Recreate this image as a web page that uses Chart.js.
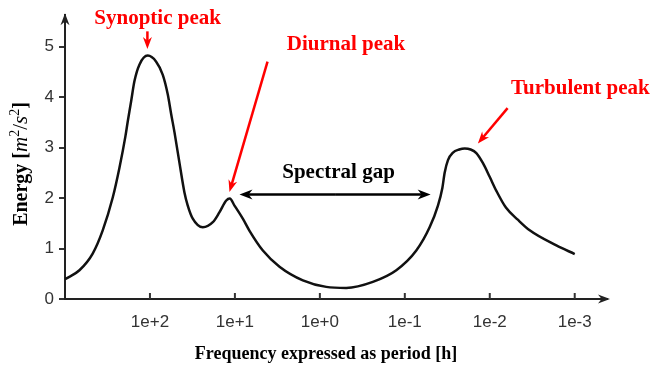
<!DOCTYPE html>
<html lang="en">
<head>
    <meta charset="UTF-8">
    <title>Energy spectrum</title>
    <script src="https://cdn.jsdelivr.net/npm/chart.js"></script>
    <style>
        html, body { margin: 0; padding: 0; background: #fff; }
        .chart-box { width: 654px; height: 367px; position: relative; }
    </style>
</head>
<body>
    <div class="chart-box">
        <canvas id="spectrumChart"></canvas>
    </div>

    <script>
        // period exponent (log10 of period in hours) and energy
        const periodExp = [3.0, 2.83, 2.674, 2.556, 2.438, 2.359, 2.289, 2.261, 2.221, 2.183, 2.124, 2.026, 1.927, 1.849, 1.79, 1.75, 1.711, 1.653, 1.594, 1.555, 1.496, 1.378, 1.26, 1.181, 1.102, 1.06, 1.005, 0.907, 0.828, 0.671, 0.475, 0.2, -0.075, -0.311, -0.624, -0.9, -1.135, -1.292, -1.39, -1.442, -1.469, -1.508, -1.567, -1.64, -1.705, -1.775, -1.842, -1.92, -1.999, -2.078, -2.19, -2.33, -2.47, -2.784, -3.0];
        const energy = [0.39, 0.57, 0.90, 1.36, 2.01, 2.60, 3.22, 3.52, 3.92, 4.31, 4.64, 4.82, 4.70, 4.44, 4.05, 3.66, 3.30, 2.70, 2.11, 1.85, 1.59, 1.42, 1.52, 1.72, 1.95, 1.99, 1.85, 1.59, 1.35, 0.96, 0.64, 0.37, 0.24, 0.22, 0.34, 0.57, 0.96, 1.42, 1.85, 2.20, 2.50, 2.75, 2.90, 2.96, 2.98, 2.96, 2.89, 2.69, 2.42, 2.14, 1.81, 1.57, 1.36, 1.06, 0.89];

        const xTicks = [2, 1, 0, -1, -2, -3];
        const xTickLabels = ['1e+2', '1e+1', '1e+0', '1e-1', '1e-2', '1e-3'];
        const yTicks = [0, 1, 2, 3, 4, 5];

        // annotations in data units: [exp, energy]
        const notes = [
            { text: 'Synoptic peak', at: [1.91, 5.55], align: 'center', from: [2.03, 5.30], to: [2.03, 4.95] },
            { text: 'Diurnal peak', at: [0.39, 5.04], align: 'left', from: [0.616, 4.70], to: [1.064, 2.12] },
            { text: 'Turbulent peak', at: [-2.25, 4.17], align: 'left', from: [-2.21, 3.78], to: [-1.86, 3.08] }
        ];
        const gapLabel = { text: 'Spectral gap', at: [-0.22, 2.50], from: 0.946, to: -1.304, y: 2.07 };

        const serif = '"Liberation Serif", "Times New Roman", serif';
        const sans = '"Liberation Sans", Arial, sans-serif';

        function arrowHead(ctx, x1, y1, x2, y2, len, half) {
            const a = Math.atan2(y2 - y1, x2 - x1);
            ctx.beginPath();
            ctx.moveTo(x2, y2);
            ctx.lineTo(x2 - len * Math.cos(a) + half * Math.sin(a), y2 - len * Math.sin(a) - half * Math.cos(a));
            ctx.lineTo(x2 - len * 0.7 * Math.cos(a), y2 - len * 0.7 * Math.sin(a));
            ctx.lineTo(x2 - len * Math.cos(a) - half * Math.sin(a), y2 - len * Math.sin(a) + half * Math.cos(a));
            ctx.closePath();
            ctx.fill();
        }

        function arrow(ctx, x1, y1, x2, y2, color, width, len, half) {
            const a = Math.atan2(y2 - y1, x2 - x1);
            ctx.strokeStyle = color;
            ctx.fillStyle = color;
            ctx.lineWidth = width;
            ctx.beginPath();
            ctx.moveTo(x1, y1);
            ctx.lineTo(x2 - len * 0.6 * Math.cos(a), y2 - len * 0.6 * Math.sin(a));
            ctx.stroke();
            arrowHead(ctx, x1, y1, x2, y2, len, half);
        }

        const decorations = {
            id: 'decorations',
            afterDraw(chart) {
                const ctx = chart.ctx;
                const xs = chart.scales.x, ys = chart.scales.y;
                const area = chart.chartArea;
                ctx.save();

                // axis arrowheads
                ctx.fillStyle = '#222';
                arrowHead(ctx, area.left, area.bottom, area.left, area.top - 2, 12, 4.5);
                arrowHead(ctx, area.left, area.bottom, area.right + 3, area.bottom, 12, 4.5);

                // x ticks pointing inward
                ctx.strokeStyle = '#333';
                ctx.lineWidth = 2;
                xTicks.forEach(v => {
                    const px = xs.getPixelForValue(v);
                    ctx.beginPath();
                    ctx.moveTo(px, area.bottom);
                    ctx.lineTo(px, area.bottom - 6);
                    ctx.stroke();
                });

                // red annotations
                notes.forEach(n => {
                    ctx.fillStyle = '#f00';
                    ctx.font = 'bold 21px ' + serif;
                    ctx.textAlign = n.align;
                    ctx.textBaseline = 'middle';
                    ctx.fillText(n.text, xs.getPixelForValue(n.at[0]), ys.getPixelForValue(n.at[1]));
                    arrow(ctx, xs.getPixelForValue(n.from[0]), ys.getPixelForValue(n.from[1]),
                        xs.getPixelForValue(n.to[0]), ys.getPixelForValue(n.to[1]), '#f00', 2.5, 12, 4.5);
                });

                // spectral gap double arrow
                const gy = ys.getPixelForValue(gapLabel.y);
                const gx1 = xs.getPixelForValue(gapLabel.from);
                const gx2 = xs.getPixelForValue(gapLabel.to);
                const mid = (gx1 + gx2) / 2;
                arrow(ctx, mid, gy, gx1, gy, '#000', 2.5, 13, 5);
                arrow(ctx, mid, gy, gx2, gy, '#000', 2.5, 13, 5);
                ctx.fillStyle = '#000';
                ctx.font = 'bold 21px ' + serif;
                ctx.textAlign = 'center';
                ctx.textBaseline = 'middle';
                ctx.fillText(gapLabel.text, xs.getPixelForValue(gapLabel.at[0]), ys.getPixelForValue(gapLabel.at[1]));

                // x axis title
                ctx.font = 'bold 18px ' + serif;
                ctx.fillText('Frequency expressed as period [h]', 326, 354);

                // y axis title with math parts
                const parts = [
                    ['Energy [', 'bold 20px ' + serif, 0],
                    ['m', 'italic 21px ' + serif, 0],
                    ['2', '14px ' + serif, -8],
                    ['/', '21px ' + serif, 0],
                    ['s', 'italic 21px ' + serif, 0],
                    ['2', '14px ' + serif, -8],
                    [']', 'bold 20px ' + serif, 0]
                ];
                let total = 0;
                parts.forEach(p => { ctx.font = p[1]; total += ctx.measureText(p[0]).width; });
                ctx.translate(20, 164);
                ctx.rotate(-Math.PI / 2);
                ctx.textAlign = 'left';
                ctx.textBaseline = 'alphabetic';
                let cx = -total / 2;
                parts.forEach(p => {
                    ctx.font = p[1];
                    ctx.fillText(p[0], cx, 7 + p[2]);
                    cx += ctx.measureText(p[0]).width;
                });
                ctx.restore();
            }
        };

        const ctx = document.getElementById('spectrumChart').getContext('2d');
        const chart = new Chart(ctx, {
            type: 'line',
            data: {
                datasets: [{
                    data: periodExp.map((v, i) => ({ x: v, y: energy[i] })),
                    borderColor: '#111',
                    borderWidth: 2.5,
                    pointRadius: 0,
                    cubicInterpolationMode: 'monotone',
                    fill: false
                }]
            },
            options: {
                responsive: true,
                maintainAspectRatio: false,
                animation: false,
                layout: { padding: { top: 13, right: 47, left: 0, bottom: 0 } },
                plugins: { legend: { display: false }, tooltip: { enabled: false } },
                scales: {
                    x: {
                        type: 'linear',
                        reverse: true,
                        min: -3.38,
                        max: 3.0,
                        afterBuildTicks: s => { s.ticks = xTicks.map(v => ({ value: v })); },
                        afterFit: s => { s.height = 68; },
                        ticks: {
                            callback: v => xTickLabels[xTicks.indexOf(v)],
                            font: { family: sans, size: 17 },
                            color: '#333',
                            padding: 13,
                            maxRotation: 0
                        },
                        grid: { display: true, drawOnChartArea: false, drawTicks: false },
                        border: { display: true, color: '#222', width: 2 }
                    },
                    y: {
                        min: 0,
                        max: 5.62,
                        afterBuildTicks: s => { s.ticks = yTicks.map(v => ({ value: v })); },
                        afterFit: s => { s.width = 65; },
                        ticks: {
                            font: { family: sans, size: 17 },
                            color: '#333',
                            padding: 5
                        },
                        grid: { display: true, drawOnChartArea: false, drawTicks: true, tickLength: 6, color: '#333', lineWidth: 2 },
                        border: { display: true, color: '#222', width: 2 }
                    }
                }
            },
            plugins: [decorations]
        });
    </script>
</body>
</html>
